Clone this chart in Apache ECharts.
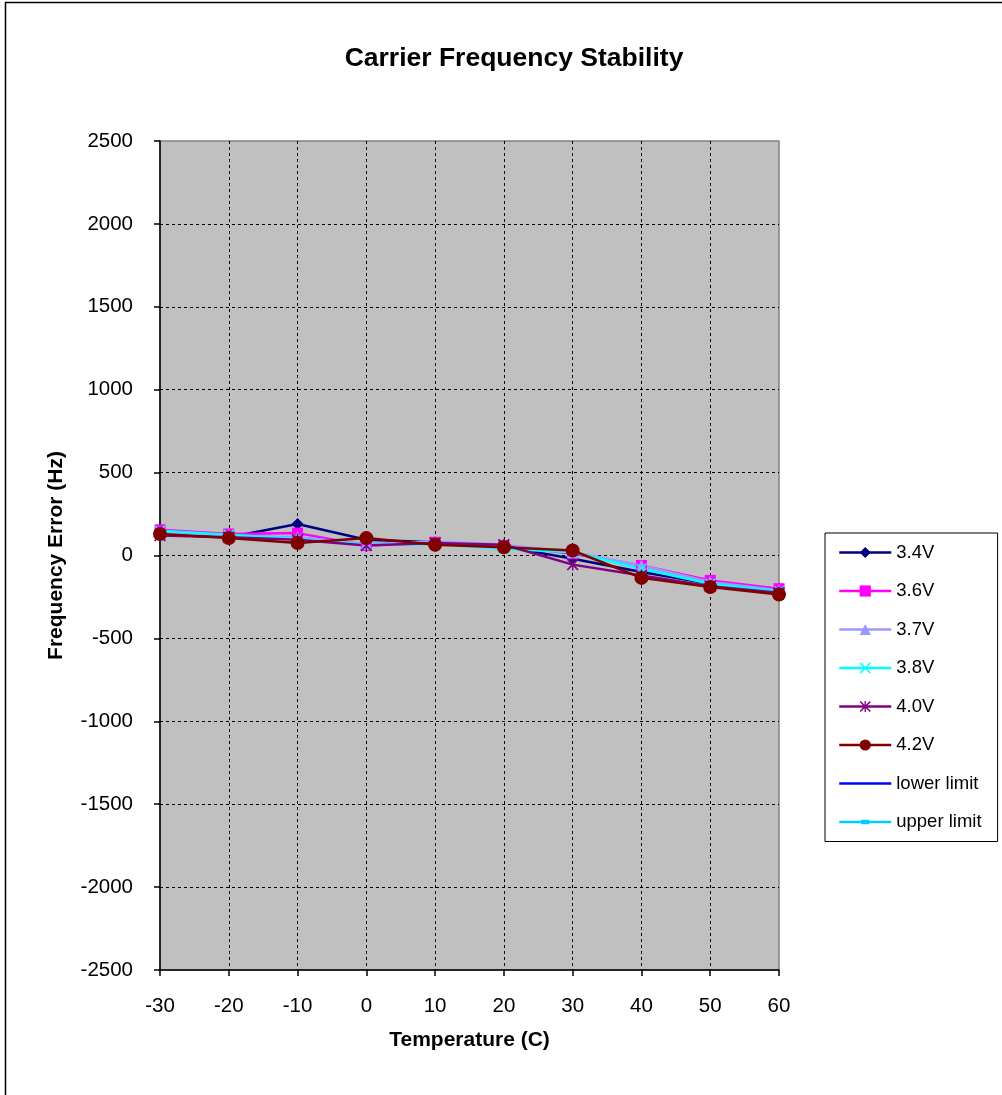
<!DOCTYPE html>
<html>
<head>
<meta charset="utf-8">
<script src="https://cdn.jsdelivr.net/npm/echarts@6/dist/echarts.min.js"></script>
<style>
html,body{margin:0;padding:0;background:#fff;}
#chart{width:1002px;height:1095px;}
</style>
</head>
<body>
<div id="chart"></div>
<script>
var temperatures = [-30, -20, -10, 0, 10, 20, 30, 40, 50, 60];
var seriesNames = ['3.4V', '3.6V', '3.7V', '3.8V', '4.0V', '4.2V', 'lower limit', 'upper limit'];
var v34 = [140, 110, 190, 95, 80, 55, -20, -100, -170, -200];
var v36 = [155, 130, 135, 60, 80, 60, 10, -60, -150, -200];
var v37 = [140, 120, 110, 70, 85, 65, 20, -60, -160, -210];
var v38 = [150, 125, 100, 65, 70, 40, 20, -80, -170, -215];
var v40 = [120, 110, 95, 60, 75, 65, -55, -120, -185, -225];
var v42 = [130, 105, 75, 105, 65, 50, 30, -135, -190, -235];
var lowerLimit = [];
var upperLimit = [];
var yTicks = {min: -2500, max: 2500, interval: 500};
var xTicks = {min: -30, max: 60, interval: 10};

var FONT = 'Liberation Sans, Arial, sans-serif';
var xPath = 'path://M0,1L1,0L5,4L9,0L10,1L6,5L10,9L9,10L5,6L1,10L0,9L4,5Z';
var starPath = 'path://M0,1L1,0L5,4L9,0L10,1L6,5L10,9L9,10L5,6L1,10L0,9L4,5ZM4.4,0L5.6,0L5.6,10L4.4,10Z';
var lowerIcon = 'path://M0,0H52V2.5H0Z';
var upperIcon = 'path://M0,1H52V3.5H0ZM22,0H30V4.5H22Z';

function pair(vals) {
  return temperatures.map(function (t, i) { return [t, vals[i]]; });
}
function mk(name, vals, color, symbol, size) {
  return {
    name: name, type: 'line', data: pair(vals),
    symbol: symbol, symbolSize: size, showSymbol: vals.length > 0,
    lineStyle: {color: color, width: 2.5},
    itemStyle: {color: color},
    emphasis: {disabled: true}
  };
}
function plain(v) { return String(v); }

var chart = echarts.init(document.getElementById('chart'));
chart.setOption({
  animation: false,
  backgroundColor: '#fff',
  title: {
    text: 'Carrier Frequency Stability',
    left: 509, top: 40, textAlign: 'center',
    textStyle: {fontFamily: FONT, fontSize: 26.5, fontWeight: 'bold', color: '#000'}
  },
  graphic: [{
    type: 'rect', shape: {x: 5.5, y: 2.5, width: 1200, height: 1200},
    style: {fill: 'none', stroke: '#000', lineWidth: 1.5}, z: 100
  }],
  grid: {
    left: 160, right: 223, top: 141, bottom: 125,
    show: true, backgroundColor: '#C0C0C0', borderColor: '#808080', borderWidth: 1.5
  },
  legend: {
    orient: 'vertical', left: 825, top: 533,
    data: seriesNames.map(function (n, i) {
      if (i === 6) return {name: n, icon: lowerIcon};
      if (i === 7) return {name: n, icon: upperIcon};
      return n;
    }),
    backgroundColor: '#fff', borderColor: '#000', borderWidth: 1,
    padding: [10, 16, 10, 13],
    itemWidth: 52, itemHeight: 14, itemGap: 19.5,
    lineStyle: {width: 2.5},
    textStyle: {fontFamily: FONT, fontSize: 18.5, color: '#000'},
    selectedMode: false
  },
  xAxis: {
    type: 'value', min: xTicks.min, max: xTicks.max, interval: xTicks.interval,
    name: 'Temperature (C)', nameLocation: 'middle', nameGap: 60,
    nameTextStyle: {fontFamily: FONT, fontSize: 21, fontWeight: 'bold', color: '#000'},
    axisLine: {show: true, onZero: false, lineStyle: {color: '#000', width: 1.5}},
    axisTick: {show: true, length: 6, lineStyle: {color: '#000', width: 1.5}},
    axisLabel: {margin: 26, fontFamily: FONT, fontSize: 20.5, color: '#000', formatter: plain},
    splitLine: {show: true, showMinLine: false, showMaxLine: false, lineStyle: {color: '#000', width: 1, type: [3, 3]}}
  },
  yAxis: {
    type: 'value', min: yTicks.min, max: yTicks.max, interval: yTicks.interval,
    name: 'Frequency Error (Hz)', nameLocation: 'middle', nameGap: 93,
    nameTextStyle: {fontFamily: FONT, fontSize: 21, fontWeight: 'bold', color: '#000'},
    axisLine: {show: true, onZero: false, lineStyle: {color: '#000', width: 1.5}},
    axisTick: {show: true, length: 6, lineStyle: {color: '#000', width: 1.5}},
    axisLabel: {margin: 27, fontFamily: FONT, fontSize: 20.5, color: '#000', formatter: plain},
    splitLine: {show: true, showMinLine: false, showMaxLine: false, lineStyle: {color: '#000', width: 1, type: [3, 3]}}
  },
  series: [
    mk('3.4V', v34, '#000080', 'diamond', 12),
    mk('3.6V', v36, '#FF00FF', 'rect', 11),
    mk('3.7V', v37, '#9999FF', 'triangle', 12),
    mk('3.8V', v38, '#00FFFF', xPath, 11),
    mk('4.0V', v40, '#800080', starPath, 12),
    mk('4.2V', v42, '#800000', 'circle', 14),
    mk('lower limit', lowerLimit, '#0000FF', lowerIcon, 0),
    mk('upper limit', upperLimit, '#00CCFF', upperIcon, 0)
  ]
});
</script>
</body>
</html>
